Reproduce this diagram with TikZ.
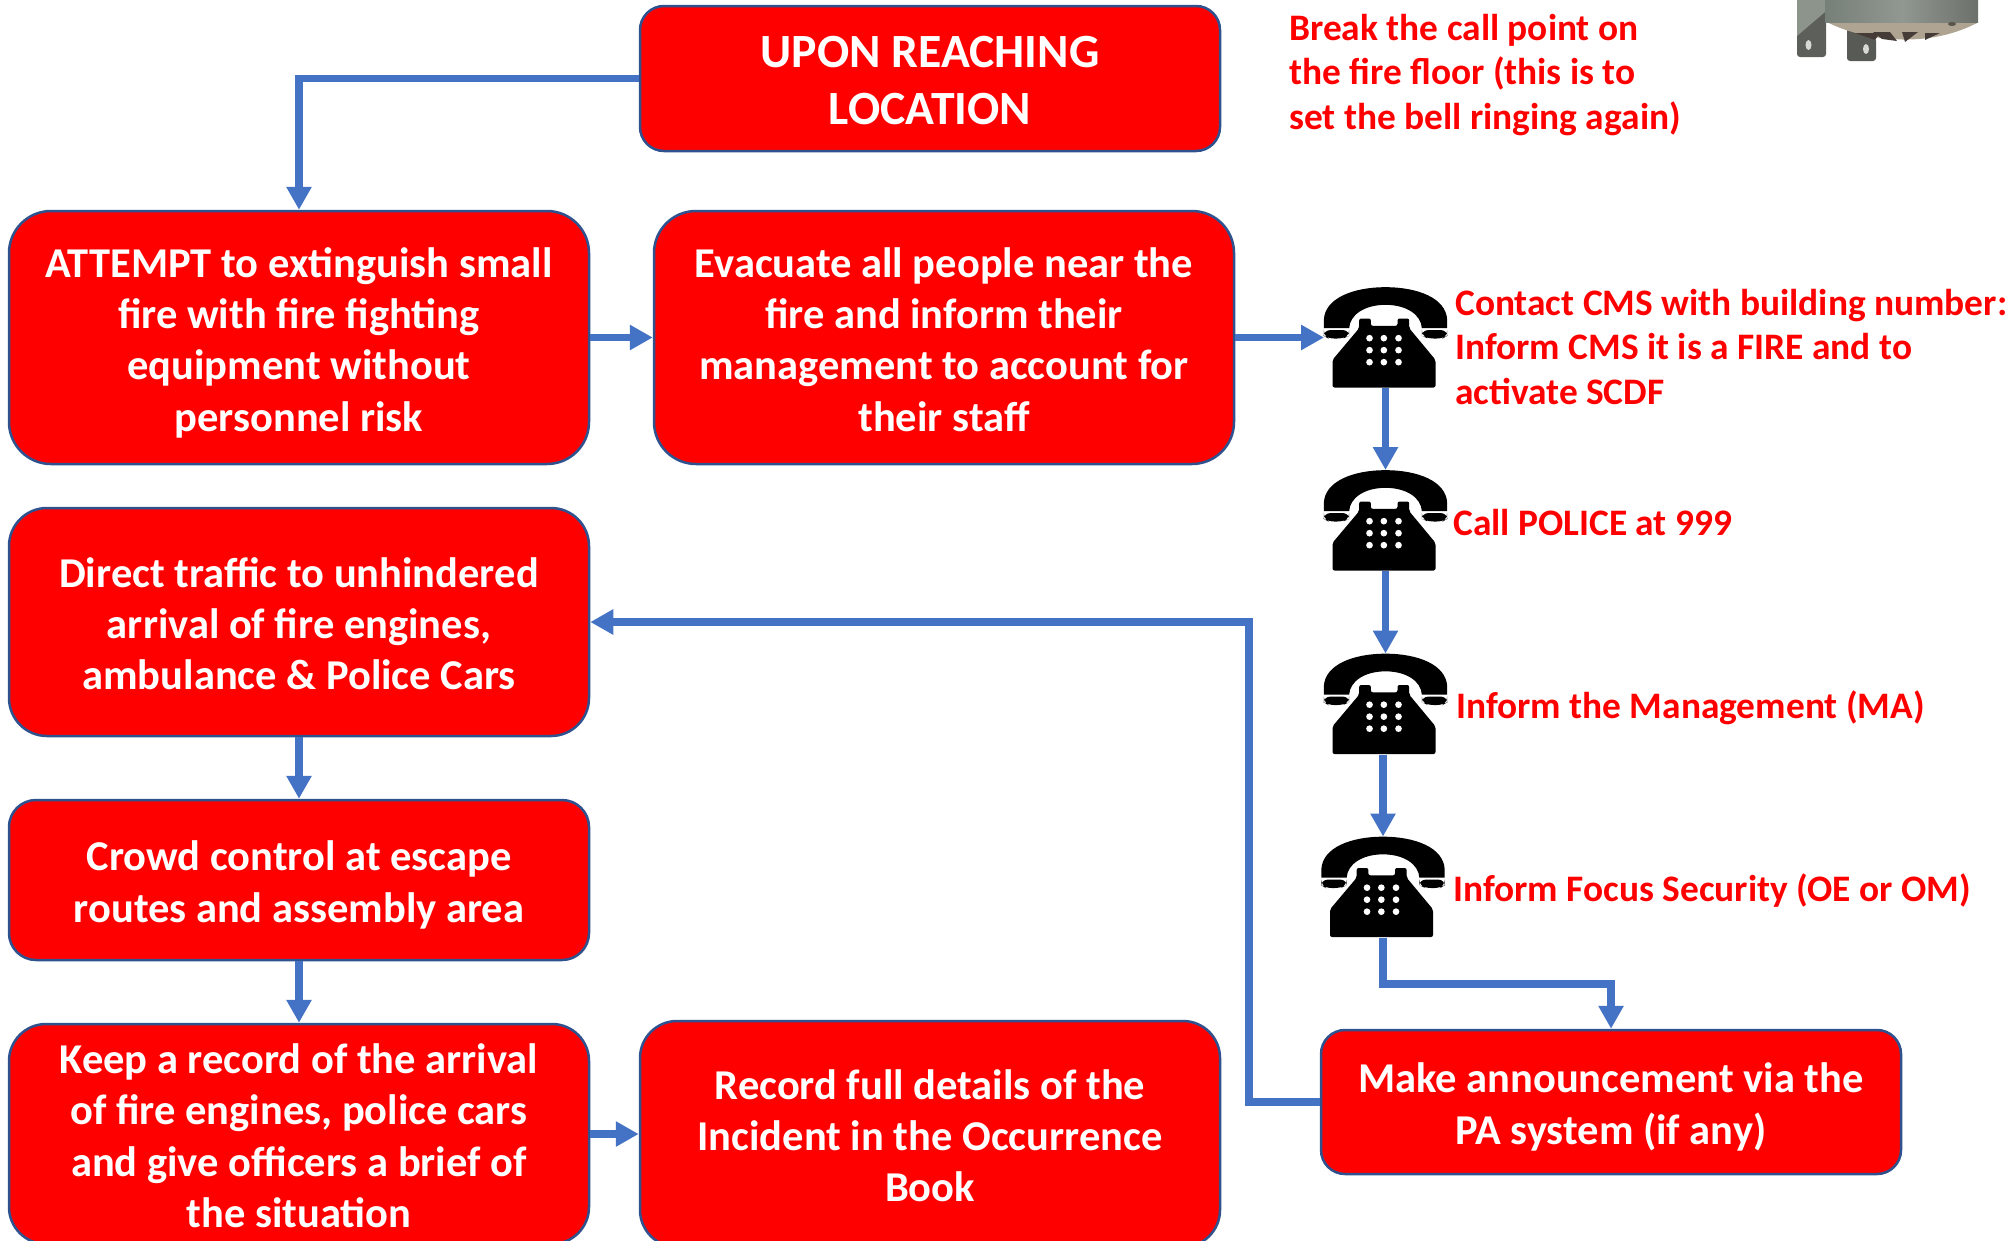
\documentclass[tikz,border=0pt]{standalone}
\usepackage{fontspec}
\setmainfont{Carlito}
\usetikzlibrary{arrows.meta,calc}
\definecolor{flowblue}{HTML}{4472C4}
\definecolor{edgeblue}{HTML}{2F528F}
\newcommand{\liftA}{\rule{0pt}{48.5pt}}
\newcommand{\liftB}{\rule{0pt}{52pt}}
\tikzset{
  box/.style={draw=edgeblue,line width=2.5pt,fill=red,text=white,align=center,inner sep=0pt,
    font=\fontsize{42.5}{51.3}\selectfont\bfseries,execute at end node=\strut},
  flow/.style={draw=flowblue,line width=7.5pt,-{Triangle[length=23pt,width=24pt]}},
  note/.style={text=red,align=left,anchor=west,inner sep=0pt,
    font=\fontsize{37.4}{44.8}\selectfont\bfseries,execute at begin node=\strut,execute at end node=\strut},
  phonebox/.style={minimum width=123pt,minimum height=101pt,inner sep=0pt,outer sep=0pt},
  phone/.pic={
    \begin{scope}[x=.3333pt,y=-.3333pt,shift={(-377,-233)}]
      \fill[black] (192,205) -- (192,180) .. controls (195,115) and (280,82) .. (377,82)
        .. controls (474,82) and (559,115) .. (562,180) -- (562,205) -- (486,205)
        .. controls (484,165) and (440,135) .. (377,135)
        .. controls (314,135) and (270,165) .. (268,205) -- cycle;
      \fill[black,rounded corners=6pt] (192,211) -- (268,211) -- (268,228) -- (250,236) -- (205,236) -- (192,228) -- cycle;
      \fill[black,rounded corners=6pt] (486,211) -- (562,211) -- (562,228) -- (549,236) -- (504,236) -- (486,228) -- cycle;
      \fill[black,rounded corners=2pt] (298,205) -- (298,176) -- (333,176) -- (333,198) -- (413,198) -- (413,176) -- (448,176)
        -- (448,205) -- (527,300) -- (527,383) -- (218,383) -- (218,300) -- cycle;
      \foreach \px in {329,372,416} \foreach \py in {235,271,307}
        \fill[white] (\px,\py) circle[radius=10];
    \end{scope}
  }
}
\begin{document}
\begin{tikzpicture}[x=1pt,y=-1pt]
\useasboundingbox (0,0) rectangle (2007,1240);
% sounder photograph, drawn
\fill[rounded corners=3pt,fill={rgb,255:red,92;green,95;blue,90}] (1797,-3) -- (1797,57) -- (1826,57) -- (1826,14) -- (1822,-3) -- cycle;
\fill[fill={rgb,255:red,140;green,148;blue,140}] (1797,-3) -- (1797,36) -- (1825,12) -- (1825,-3) -- cycle;
\fill[rounded corners=3pt,fill={rgb,255:red,88;green,90;blue,86}] (1847,28) -- (1847,61) -- (1876,61) -- (1876,38) -- cycle;
\fill[fill={rgb,255:red,215;green,218;blue,212}] (1808.5,45) ellipse[x radius=3,y radius=5];
\fill[fill={rgb,255:red,215;green,218;blue,212}] (1866,49) ellipse[x radius=3,y radius=5];
\fill[fill={rgb,255:red,174;green,164;blue,145}] (1825,21) .. controls (1860,40) and (1925,50) .. (1977,23) -- cycle;
\fill[left color={rgb,255:red,118;green,127;blue,120},right color={rgb,255:red,108;green,112;blue,106},middle color={rgb,255:red,145;green,152;blue,145}] (1825,-3) rectangle (1978,22);
\fill[fill={rgb,255:red,70;green,60;blue,55}] (1855,33) -- (1880,33) -- (1875,40) -- cycle
  (1873,32) -- (1890,32) -- (1897,41) -- (1882,39) -- cycle
  (1902,32) -- (1918,32) -- (1905,42) -- cycle
  (1925,33) -- (1940,33) -- (1925,40) -- cycle;
\fill[fill={rgb,255:red,90;green,85;blue,75}] (1952,24) ellipse[x radius=4,y radius=2];

\node[box,minimum width=580pt,minimum height=145pt,rounded corners=24pt,font=\fontsize{47.7}{57.6}\selectfont\bfseries] (top) at (930,78.5) {\liftB UPON REACHING\\LOCATION};
\node[box,minimum width=580pt,minimum height=253pt,rounded corners=42pt] (a) at (299,337.5) {\liftA ATTEMPT to extinguish small\\fire with fire fighting\\equipment without\\personnel risk};
\node[box,minimum width=580pt,minimum height=253pt,rounded corners=42pt] (b) at (944,337.5) {\liftA Evacuate all people near the\\fire and inform their\\management to account for\\their staff};
\node[box,minimum width=580pt,minimum height=228pt,rounded corners=38pt] (c) at (299,622) {\liftA Direct traffic to unhindered\\arrival of fire engines,\\ambulance \& Police Cars};
\node[box,minimum width=580pt,minimum height=160pt,rounded corners=27pt] (d) at (299,880) {\liftA Crowd control at escape\\routes and assembly area};
\node[box,minimum width=580pt,minimum height=220pt,rounded corners=37pt] (e) at (299,1134) {\liftA Keep a record of the arrival\\of fire engines, police cars\\and give officers a brief of\\the situation};
\node[box,minimum width=580pt,minimum height=226pt,rounded corners=37pt] (f) at (930,1134) {\liftA Record full details of the\\Incident in the Occurrence\\Book};
\node[box,minimum width=580pt,minimum height=144pt,rounded corners=24pt] (g) at (1611,1102) {\liftA Make announcement via the\\PA system (if any)};

\node[phonebox] (p1) at (1385.5,337.5) {};
\node[phonebox] (p2) at (1385.5,520.5) {};
\node[phonebox] (p3) at (1385.5,704) {};
\node[phonebox] (p4) at (1383,887) {};
\pic at (p1) {phone};
\pic at (p2) {phone};
\pic at (p3) {phone};
\pic at (p4) {phone};

\node[note] (n0) at (1289,78.4) {Break the call point on\\the fire floor (this is to\\set the bell ringing again)};
\node[note] (n1) at (1455,353.5) {Contact CMS with building number:\\Inform CMS it is a FIRE and to\\activate SCDF};
\node[note] (n2) at (1453,527) {Call POLICE at 999};
\node[note] (n3) at (1456,710) {Inform the Management (MA)};
\node[note] (n4) at (1453,893) {Inform Focus Security (OE or OM)};

\coordinate (elbowg) at (1611,984);
\coordinate (elbowc) at (1249,622);
\draw[flow] (top.west) -| (a.north);
\draw[flow] (a.east) -- (b.west);
\draw[flow] (b.east) -- (p1.west);
\draw[flow] (p1.south) -- (p2.north);
\draw[flow] (p2.south) -- (p3.north);
\draw[flow] (p4.north |- p3.south) -- (p4.north);
\draw[flow] (p4.south) |- (elbowg) -- (g.north);
\draw[flow] (g.west) -| (elbowc) -- (c.east);
\draw[flow] (c.south) -- (d.north);
\draw[flow] (d.south) -- (e.north);
\draw[flow] (e.east) -- (f.west);
\end{tikzpicture}
\end{document}
